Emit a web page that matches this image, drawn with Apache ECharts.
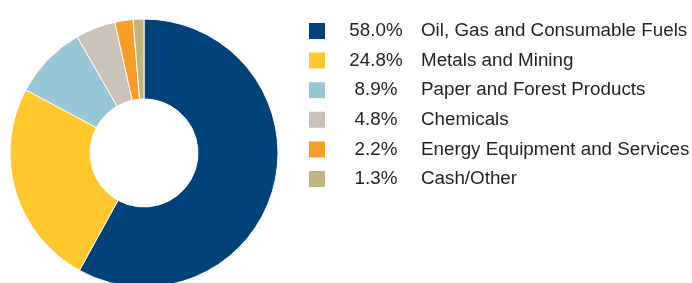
<!DOCTYPE html>
<html><head><meta charset="utf-8">
<script src="https://cdn.jsdelivr.net/npm/echarts@6/dist/echarts.min.js"></script>
<style>html,body{margin:0;padding:0;background:#fff}#c{width:692px;height:283px}</style>
</head><body><div id="c"></div>
<script>
const categories = ["Oil, Gas and Consumable Fuels","Metals and Mining","Paper and Forest Products","Chemicals","Energy Equipment and Services","Cash/Other"];
const values = [58.0, 24.8, 8.9, 4.8, 2.2, 1.3];
const colors = ["#00427A","#FFC72C","#97C7D6","#C9C2B8","#F99D2A","#C3B47E"];
const chart = echarts.init(document.getElementById('c'));
const data = categories.map((n,i)=>({name:n,value:values[i],itemStyle:{color:colors[i]}}));
const F = 'Liberation Sans';
chart.setOption({
  animation:false,
  legend:{
    orient:'vertical', left:302, top:16, itemWidth:18, itemHeight:18, itemGap:9.6,
    icon:'rect', selectedMode:false,
    formatter:function(name){const i=categories.indexOf(name);return '{p|'+values[i].toFixed(1)+'%}{n|'+name+'}';},
    textStyle:{fontFamily:F,fontSize:18.8,color:'#231F20',lineHeight:18,
      rich:{p:{width:90,align:'right',fontFamily:F,fontSize:18.8,color:'#231F20',lineHeight:18},
            n:{padding:[0,0,0,0],fontFamily:F,fontSize:18.8,color:'#231F20',lineHeight:18}}}
  },
  series:[{type:'pie',center:[144,153],radius:[54,134],startAngle:90,clockwise:true,
    label:{show:false},labelLine:{show:false},silent:true,
    itemStyle:{borderColor:'#fff',borderWidth:1},data:data}]
});
</script></body></html>
